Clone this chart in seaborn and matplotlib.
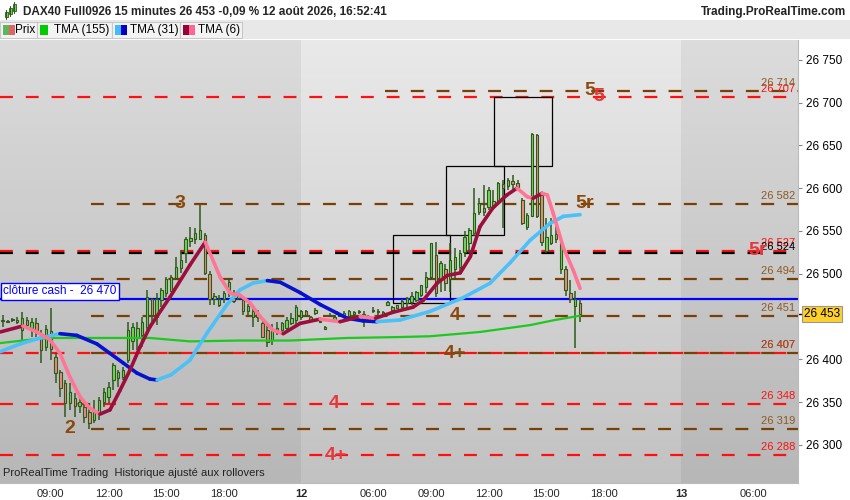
import numpy as np
import pandas as pd
import matplotlib
matplotlib.use("Agg")
import matplotlib.pyplot as plt
import matplotlib.transforms as mtransforms
from matplotlib.patches import Rectangle
import seaborn as sns

# Bougies 15 minutes : 11 août 06:30 -> 21:45, puis 12 août 02:15 -> 16:45 (index de barre)
opens = [26445, 26444, 26446, 26446, 26434, 26446, 26437, 26442, 26430, 26414,
         26433, 26403, 26385, 26372, 26349, 26355, 26345, 26344, 26338, 26329,
         26337, 26350, 26356, 26376, 26378, 26379, 26399, 26422, 26425, 26428,
         26438, 26470, 26450, 26469, 26477, 26480, 26495, 26507, 26524, 26538,
         26541, 26541, 26545, 26500, 26470, 26464, 26470, 26476, 26472, 26472,
         26469, 26456, 26449, 26450, 26443, 26434, 26423, 26433, 26434, 26437,
         26442, 26446,
         26450, 26456, 26449, 26454, 26445, 26436, 26451, 26446, 26451, 26452,
         26451, 26453, 26455, 26453, 26446, 26456, 26455, 26453, 26463, 26458,
         26460, 26461, 26466, 26467, 26469, 26475, 26485, 26496, 26522, 26493,
         26506, 26494, 26505, 26508, 26525, 26536, 26548, 26572, 26577, 26578,
         26578, 26585, 26605, 26603, 26608, 26606, 26586, 26555, 26568, 26662,
         26592, 26526, 26536, 26547, 26505, 26506, 26478, 26462, 26466]
highs = [26452, 26446, 26448, 26449, 26455, 26449, 26448, 26448, 26434, 26440,
         26460, 26407, 26388, 26376, 26372, 26361, 26356, 26349, 26349, 26352,
         26356, 26367, 26374, 26396, 26388, 26391, 26444, 26442, 26444, 26450,
         26481, 26472, 26478, 26483, 26496, 26498, 26520, 26528, 26543, 26555,
         26553, 26580, 26548, 26503, 26477, 26475, 26480, 26495, 26481, 26479,
         26471, 26465, 26460, 26458, 26446, 26443, 26441, 26444, 26444, 26449,
         26454, 26464,
         26458, 26458, 26451, 26460, 26446, 26439, 26454, 26451, 26454, 26456,
         26458, 26457, 26458, 26456, 26452, 26461, 26459, 26457, 26468, 26462,
         26464, 26470, 26473, 26479, 26480, 26487, 26502, 26536, 26537, 26515,
         26511, 26536, 26530, 26528, 26550, 26553, 26600, 26588, 26604, 26601,
         26598, 26607, 26609, 26612, 26615, 26610, 26588, 26571, 26664, 26663,
         26596, 26565, 26565, 26559, 26539, 26509, 26493, 26480, 26470]
lows = [26438, 26443, 26444, 26441, 26423, 26437, 26426, 26426, 26396, 26410,
        26399, 26372, 26356, 26333, 26341, 26333, 26337, 26326, 26319, 26326,
        26329, 26344, 26349, 26364, 26368, 26376, 26396, 26411, 26411, 26414,
        26434, 26440, 26440, 26461, 26473, 26481, 26493, 26501, 26513, 26531,
        26535, 26539, 26498, 26463, 26463, 26461, 26466, 26473, 26466, 26469,
        26452, 26452, 26438, 26444, 26425, 26415, 26417, 26428, 26431, 26433,
        26440, 26440,
        26446, 26449, 26445, 26452, 26443, 26434, 26450, 26445, 26449, 26450,
        26450, 26451, 26453, 26438, 26444, 26454, 26452, 26451, 26462, 26457,
        26459, 26460, 26461, 26463, 26467, 26473, 26478, 26493, 26473, 26479,
        26480, 26479, 26493, 26501, 26519, 26524, 26544, 26569, 26568, 26574,
        26577, 26584, 26553, 26598, 26598, 26598, 26557, 26551, 26566, 26565,
        26532, 26524, 26534, 26536, 26500, 26474, 26466, 26413, 26444]
closes = [26446, 26445, 26446, 26444, 26448, 26440, 26444, 26434, 26411, 26436,
          26412, 26384, 26366, 26349, 26362, 26345, 26350, 26333, 26326, 26341,
          26352, 26362, 26368, 26393, 26385, 26388, 26434, 26438, 26437, 26444,
          26473, 26452, 26470, 26481, 26494, 26496, 26508, 26516, 26541, 26542,
          26548, 26551, 26501, 26470, 26474, 26471, 26478, 26490, 26468, 26475,
          26457, 26462, 26456, 26454, 26426, 26420, 26434, 26437, 26442, 26446,
          26448, 26461,
          26457, 26452, 26446, 26458, 26444, 26438, 26452, 26450, 26452, 26454,
          26456, 26455, 26456, 26446, 26450, 26458, 26456, 26455, 26467, 26461,
          26463, 26468, 26472, 26474, 26479, 26487, 26496, 26536, 26478, 26513,
          26489, 26516, 26520, 26524, 26543, 26551, 26571, 26583, 26572, 26598,
          26585, 26606, 26600, 26610, 26605, 26601, 26559, 26569, 26663, 26568,
          26537, 26543, 26545, 26540, 26536, 26481, 26471, 26470, 26453]

# Moyennes mobiles (position en barres, valeur)
tma6_bar = [-0.5, 4.2, 7.1, 9.8, 11.9, 14, 16.1, 18.1, 20.2, 22.3, 24.4, 26.5, 28.5,
            30.6, 34.8, 38.9, 42.1, 45.2, 47.3, 49.3, 51.4, 53.5, 56.2, 58.3, 61.8,
            66, 70.1, 74.3, 77.5, 81.1, 85.3, 87.4, 90.3, 92.4, 95.1, 97.2, 99.2,
            101.9, 104.8, 106.9, 109, 110.2, 112.1, 113.2, 114.4, 116.5, 118.6, 120]
tma6_val = [26432, 26439, 26432, 26423, 26407, 26379, 26356, 26343, 26336, 26341,
            26364, 26388, 26414, 26438, 26473, 26510, 26537, 26496, 26477, 26475,
            26466, 26450, 26434, 26430, 26442, 26447, 26444, 26450, 26448, 26455,
            26461, 26469, 26489, 26498, 26501, 26520, 26555, 26577, 26592, 26600,
            26590, 26588, 26594, 26592, 26571, 26531, 26504, 26483]

tma31_bar = [-0.5, 3.6, 7.8, 11.9, 15.4, 19.6, 22.3, 25, 27.9, 30.6, 32.1, 35, 38.9,
             42.5, 46.6, 49.3, 52, 55, 57.7, 61.8, 66, 69.5, 71.6, 74.9, 77.8, 82.6,
             88.8, 95.7, 101.3, 105.5, 109.6, 113.8, 116.5, 120]
tma31_val = [26409, 26418, 26425, 26430, 26428, 26418, 26407, 26396, 26384, 26377,
             26376, 26382, 26399, 26431, 26464, 26481, 26489, 26492, 26490, 26478,
             26464, 26454, 26448, 26445, 26444, 26446, 26456, 26472, 26489, 26513,
             26539, 26559, 26567, 26569]

tma155_bar = [-0.5, 5.7, 9.8, 20.2, 30.6, 38.9, 49.3, 59.7, 71.6, 82, 88.8, 95.1,
              99.2, 109.6, 114.8, 120]
tma155_val = [26419, 26423, 26425, 26425, 26425, 26421, 26422, 26422, 26425, 26426,
              26427, 26430, 26432, 26440, 26446, 26451]

# Niveaux horizontaux
red_levels = [26707, 26527, 26407, 26348, 26288]
brown_levels = [26714, 26582, 26494, 26451, 26407, 26319]
black_levels = [26524]
cloture_cash = 26470
last_price = 26453

# Rectangles (barre début, barre fin, bas, haut)
boxes = [(81.1, 93.0, 26466, 26545), (92.2, 104.2, 26545, 26626), (102.1, 114.2, 26626, 26707)]

# Annotations (texte, barre, prix, couleur)
marks = [("3", 36.9, 26582, "brown"), ("2", 14, 26319, "brown"),
         ("4", 68.9, 26348, "red"), ("4+", 69.3, 26288, "red"),
         ("4", 94, 26451, "brown"), ("4+", 94, 26407, "brown"),
         ("5r", 121, 26582, "brown"), ("5r", 157, 26527, "red"),
         ("5", 122, 26714, "brown"), ("5", 123.8, 26707, "red")]

tick_pos = [10, 22, 34, 46, 62, 77, 89, 101, 113, 125, 141, 156]
tick_lab = ["09:00", "12:00", "15:00", "18:00", "12", "06:00", "09:00", "12:00",
            "15:00", "18:00", "13", "06:00"]
minor_pos = [58, 65, 137, 144]
price_ticks = [26300, 26350, 26400, 26500, 26550, 26600, 26650, 26700, 26750]

BROWN = "#8a4a0c"
RED = "#ff1010"
TXT_RED = "#e8363c"

sns.set_style("white")
plt.rcParams['font.family'] = ['Liberation Sans', 'DejaVu Sans']

fig = plt.figure(figsize=(8.5, 5), dpi=100)
ax = fig.add_axes([0, 17 / 500, 798 / 850, 443 / 500])
xmin, xmax = -0.56, 165.3
ymin, ymax = 26255.6, 26773
ax.set_xlim(xmin, xmax)
ax.set_ylim(ymin, ymax)

# fond dégradé + zones jour
grad = np.linspace(0.915, 0.76, 256)
img = np.dstack([grad, grad, grad]).reshape(256, 1, 3)
ax.imshow(img, extent=[xmin, xmax, ymin, ymax], aspect='auto', zorder=0, origin='upper')
ax.axvspan(xmin, 62, color='black', alpha=0.055, lw=0, zorder=0.5)
ax.axvspan(141, xmax, color='black', alpha=0.055, lw=0, zorder=0.5)

# niveaux
for v in red_levels:
    ax.plot([xmin, xmax], [v, v], color=RED, lw=1.6, dashes=(5.8, 5.8), zorder=2)
for v in black_levels:
    ax.plot([xmin, xmax], [v, v], color='black', lw=1.6, dashes=(5.8, 5.8), zorder=2)
for v in brown_levels:
    start = 79.5 if v == 26714 else 18.4
    ax.plot([start, xmax], [v, v], color="#7a3f05", lw=1.6, dashes=(5.8, 5.8), zorder=2)
ax.axhline(cloture_cash, color='#0000ff', lw=1.6, zorder=2)

# étiquettes de niveaux à droite
xr = 164.7
def fmt(v):
    return f"{v:,}".replace(",", " ")
for v in red_levels:
    ax.text(xr, v + 3.5, fmt(v), ha='right', va='bottom', fontsize=8, color=RED, zorder=6)
for v in black_levels:
    ax.text(xr, v + 1.0, fmt(v), ha='right', va='bottom', fontsize=8, color='black', zorder=6)
for v in brown_levels:
    ax.text(xr, v + 3.5, fmt(v), ha='right', va='bottom', fontsize=8, color="#8d5a24", zorder=6)

# rectangles
for b0, b1, lo, hi in boxes:
    ax.add_patch(Rectangle((b0, lo), b1 - b0, hi - lo, fill=False, ec='black', lw=0.9, zorder=3))

# bougies
x = np.arange(len(closes))
o = np.array(opens); h = np.array(highs); l = np.array(lows); c = np.array(closes)
ax.vlines(x, l, h, color="#2c5a1a", lw=1.1, zorder=3)
up = c >= o
body_lo = np.minimum(o, c)
body_h = np.maximum(np.abs(c - o), 0.8)
ax.bar(x[up], body_h[up], bottom=body_lo[up], width=0.5, color="#72d65a",
       edgecolor="#2c5a1a", lw=0.8, zorder=3.2)
ax.bar(x[~up], body_h[~up], bottom=body_lo[~up], width=0.5, color="#f08a7c",
       edgecolor="#2c5a1a", lw=0.8, zorder=3.2)

# moyennes mobiles
df155 = pd.DataFrame({"bar": tma155_bar, "tma": tma155_val})
sns.lineplot(data=df155, x="bar", y="tma", ax=ax, color="#1ec81e", lw=1.6, zorder=4)

def two_tone(xs, ys, c_up, c_down, lw):
    for i in range(len(xs) - 1):
        col = c_up if ys[i + 1] >= ys[i] else c_down
        ax.plot(xs[i:i + 2], ys[i:i + 2], color=col, lw=lw, solid_capstyle='round', zorder=4.2)

two_tone(tma31_bar, tma31_val, "#4cc0f8", "#0612cc", 2.6)
two_tone(tma6_bar, tma6_val, "#9c0f3c", "#ff7596", 2.6)

# annotations
for t, bx, py, col in marks:
    ax.text(bx, py, t, ha='center', va='center', fontsize=14, fontweight='bold',
            color=BROWN if col == "brown" else TXT_RED, zorder=6)

# étiquette clôture cash
trans = mtransforms.blended_transform_factory(ax.transAxes, ax.transData)
ax.text(0.004, cloture_cash + 2.5, "clôture cash -  26 470", transform=trans, ha='left',
        va='bottom', fontsize=8.5, color='#0000ff', zorder=7,
        bbox=dict(boxstyle='square,pad=0.2', fc='white', ec='#0000ff', lw=1))

ax.text(0.004, 26262, "ProRealTime Trading  Historique ajusté aux rollovers",
        transform=trans, fontsize=8, color='#222222', va='bottom', zorder=7)

# axes
ax.yaxis.tick_right()
ax.set_yticks(price_ticks)
ax.set_yticklabels([fmt(v) for v in price_ticks], fontsize=8.5)
ax.tick_params(axis='y', length=3, color='#888888', pad=3, labelcolor='black')
ax.set_xticks(tick_pos)
ax.set_xticklabels(tick_lab, fontsize=8)
ax.set_xticks(minor_pos, minor=True)
ax.tick_params(axis='x', which='both', length=3, color='#888888', pad=1.5)
for tk, lab in zip(ax.xaxis.get_major_ticks(), tick_lab):
    if lab in ("12", "13"):
        tk.tick1line.set_visible(False)
        tk.label1.set_fontweight('bold')
        tk.label1.set_fontsize(8)
ax.set_xlabel("")
ax.set_ylabel("")
for s in ["top", "left"]:
    ax.spines[s].set_visible(False)
ax.spines["right"].set_color("#bbbbbb")
ax.spines["bottom"].set_color("#bbbbbb")

# prix courant
ax.text(1.0 + 6 / 798, last_price, "26 453", transform=trans, ha='left', va='center',
        fontsize=8.5, color='black', zorder=8, clip_on=False,
        bbox=dict(boxstyle='square,pad=0.2', fc='#ffd02a', ec='#999999', lw=0.8))
ax.plot([1.0, 1.0 + 5 / 798], [last_price, last_price], transform=trans, color='black',
        lw=1, clip_on=False)

# en-tête
def fx(px):
    return px / 850
def fy(py):
    return 1 - py / 500

fig.patches.append(Rectangle((0, fy(39)), 1, 19 / 500, transform=fig.transFigure,
                             fc='#e8e8e8', ec='none', zorder=0))
items = [(0, 37, "Prix", ["#5cb85c", "#e06464"], 15),
         (37, 112, "TMA (155)", ["#00cc00"], 54),
         (112, 180, "TMA (31)", ["#44bbff", "#0000cc"], 130),
         (180, 242, "TMA (6)", ["#990033", "#ff6690"], 198)]
for x0, x1, lab, cols, tx in items:
    fig.patches.append(Rectangle((fx(x0), fy(38)), fx(x1 - x0), 16 / 500, transform=fig.transFigure,
                                 fc='#f3f3f3', ec='#c8c8c8', lw=0.8, zorder=1))
    sw = 12 / len(cols) if len(cols) > 1 else 8
    for i, col in enumerate(cols):
        fig.patches.append(Rectangle((fx(x0 + 3 + i * sw), fy(35)), fx(sw), 10 / 500,
                                     transform=fig.transFigure, fc=col, ec='none', zorder=2))
    fig.text(fx(tx), fy(30), lab, fontsize=8.5, va='center', ha='left', color='black')

for i, (bx, top, bot) in enumerate([(6, 12, 17), (10, 8, 14), (14, 4, 11)]):
    fig.lines.append(plt.Line2D([fx(bx), fx(bx)], [fy(top - 2), fy(bot + 2)],
                                transform=fig.transFigure, color='#2c5a1a', lw=0.8))
    fig.patches.append(Rectangle((fx(bx - 1.5), fy(bot)), fx(3), (bot - top) / 500,
                                 transform=fig.transFigure, fc='#72d65a', ec='#2c5a1a', lw=0.6))
fig.text(fx(23), fy(12), "DAX40 Full0926 15 minutes 26 453 -0,09 % 12 août 2026, 16:52:41",
         fontsize=8.5, fontweight='bold', va='center', ha='left')
fig.text(fx(846), fy(12), "Trading.ProRealTime.com", fontsize=8.5, fontweight='bold',
         va='center', ha='right', color='#222222')

fig.savefig("out.png", dpi=100)
